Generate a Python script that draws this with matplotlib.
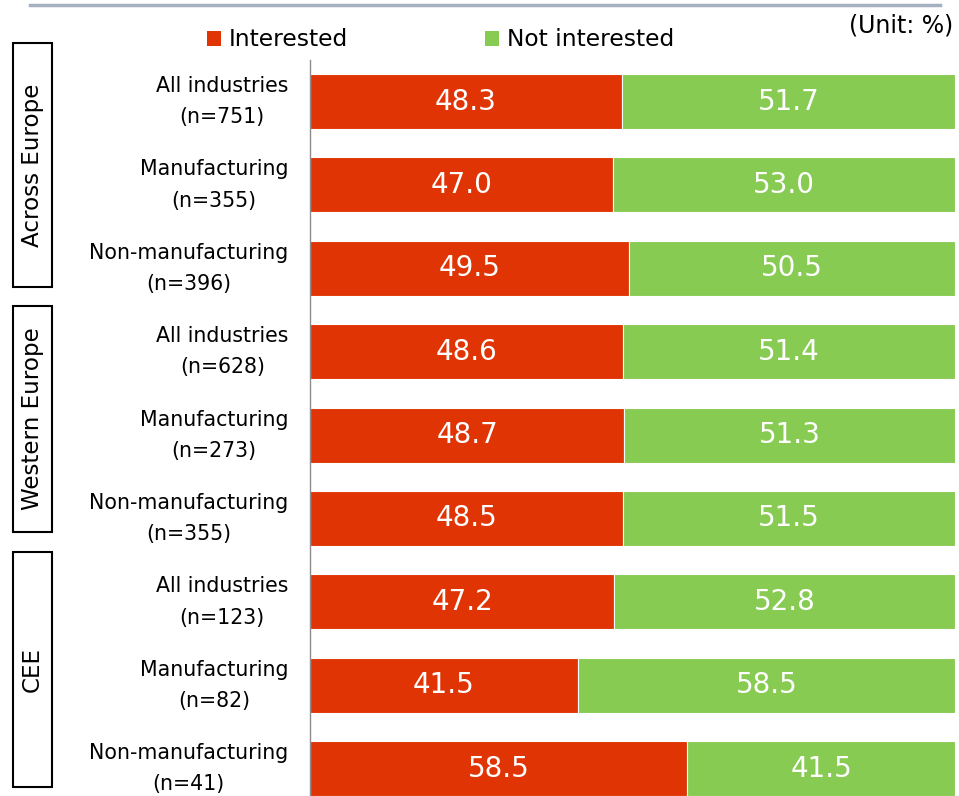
import matplotlib
matplotlib.use('Agg')
from matplotlib import pyplot as plt
from matplotlib.patches import Rectangle, Patch
from matplotlib.lines import Line2D

# Interest by region / industry, share of respondents (%)
segments = ['All industries', 'Manufacturing', 'Non-manufacturing']
counts = [751, 355, 396, 628, 273, 355, 123, 82, 41]
interested = [48.3, 47.0, 49.5, 48.6, 48.7, 48.5, 47.2, 41.5, 58.5]
not_interested = [51.7, 53.0, 50.5, 51.4, 51.3, 51.5, 52.8, 58.5, 41.5]
regions = ['Across Europe', 'Western Europe', 'CEE']

RED = '#E13404'
GREEN = '#88CB53'
W, H = 959, 796

labels = ['%s\n(n=%d)' % (segments[i % 3], n) for i, n in enumerate(counts)]
rows = list(range(len(counts)))

fig = plt.figure(figsize=(W / 100, H / 100), dpi=100)
ax = fig.add_axes([310 / W, 1 - 810.4 / H, 645 / W, 750.6 / H])

ax.barh(rows, interested, height=0.66, color=RED, edgecolor='white', linewidth=0.8)
ax.barh(rows, not_interested, left=interested, height=0.66, color=GREEN,
        edgecolor='white', linewidth=0.8)

for y, a, b in zip(rows, interested, not_interested):
    ax.text(a / 2, y, '%.1f' % a, ha='center', va='center', color='white', fontsize=20)
    ax.text(a + b / 2, y, '%.1f' % b, ha='center', va='center', color='white', fontsize=20)

ax.set_xlim(0, 100)
ax.set_ylim(len(counts) - 0.5, -0.5)
ax.set_yticks(rows)
ax.set_yticklabels(labels, fontsize=14.8, linespacing=1.7)
for lbl in ax.get_yticklabels():
    lbl.set_multialignment('center')
    lbl.set_verticalalignment('center')
ax.tick_params(axis='y', length=0, pad=15.5)
ax.set_xticks([])
for side in ['top', 'right', 'bottom']:
    ax.spines[side].set_visible(False)
ax.spines['left'].set_color('#8C8C8C')
ax.spines['left'].set_linewidth(1.0)

# region boxes on the left (pixel spans from top of figure)
spans = [(42.7, 287.0), (306.0, 532.0), (551.5, 787.0)]
for name, (top, bot) in zip(regions, spans):
    fig.patches.append(Rectangle((13 / W, 1 - bot / H), 39 / W, (bot - top) / H,
                                 transform=fig.transFigure, fill=False,
                                 edgecolor='black', linewidth=1.5))
    fig.text(32.5 / W, 1 - (top + bot) / 2 / H, name, rotation=90,
             ha='center', va='center', fontsize=16.6)

# thin rule across the top
fig.add_artist(Line2D([30 / W, 940 / W], [1 - 4.5 / H, 1 - 4.5 / H],
                      transform=fig.transFigure, color='#A6B0C3', linewidth=2.5))

handles = [Patch(facecolor=RED), Patch(facecolor=GREEN)]
fig.legend(handles, ['Interested', 'Not interested'], loc='center left',
           bbox_to_anchor=(207 / W, 1 - 40 / H), ncol=2, frameon=False,
           fontsize=16.8, handlelength=0.6, handleheight=0.6,
           handletextpad=0.35, columnspacing=5.85, borderaxespad=0, borderpad=0)

fig.text(953 / W, 1 - 25 / H, '(Unit: %)', ha='right', va='center', fontsize=17)

plt.savefig('out.png', dpi=100)
